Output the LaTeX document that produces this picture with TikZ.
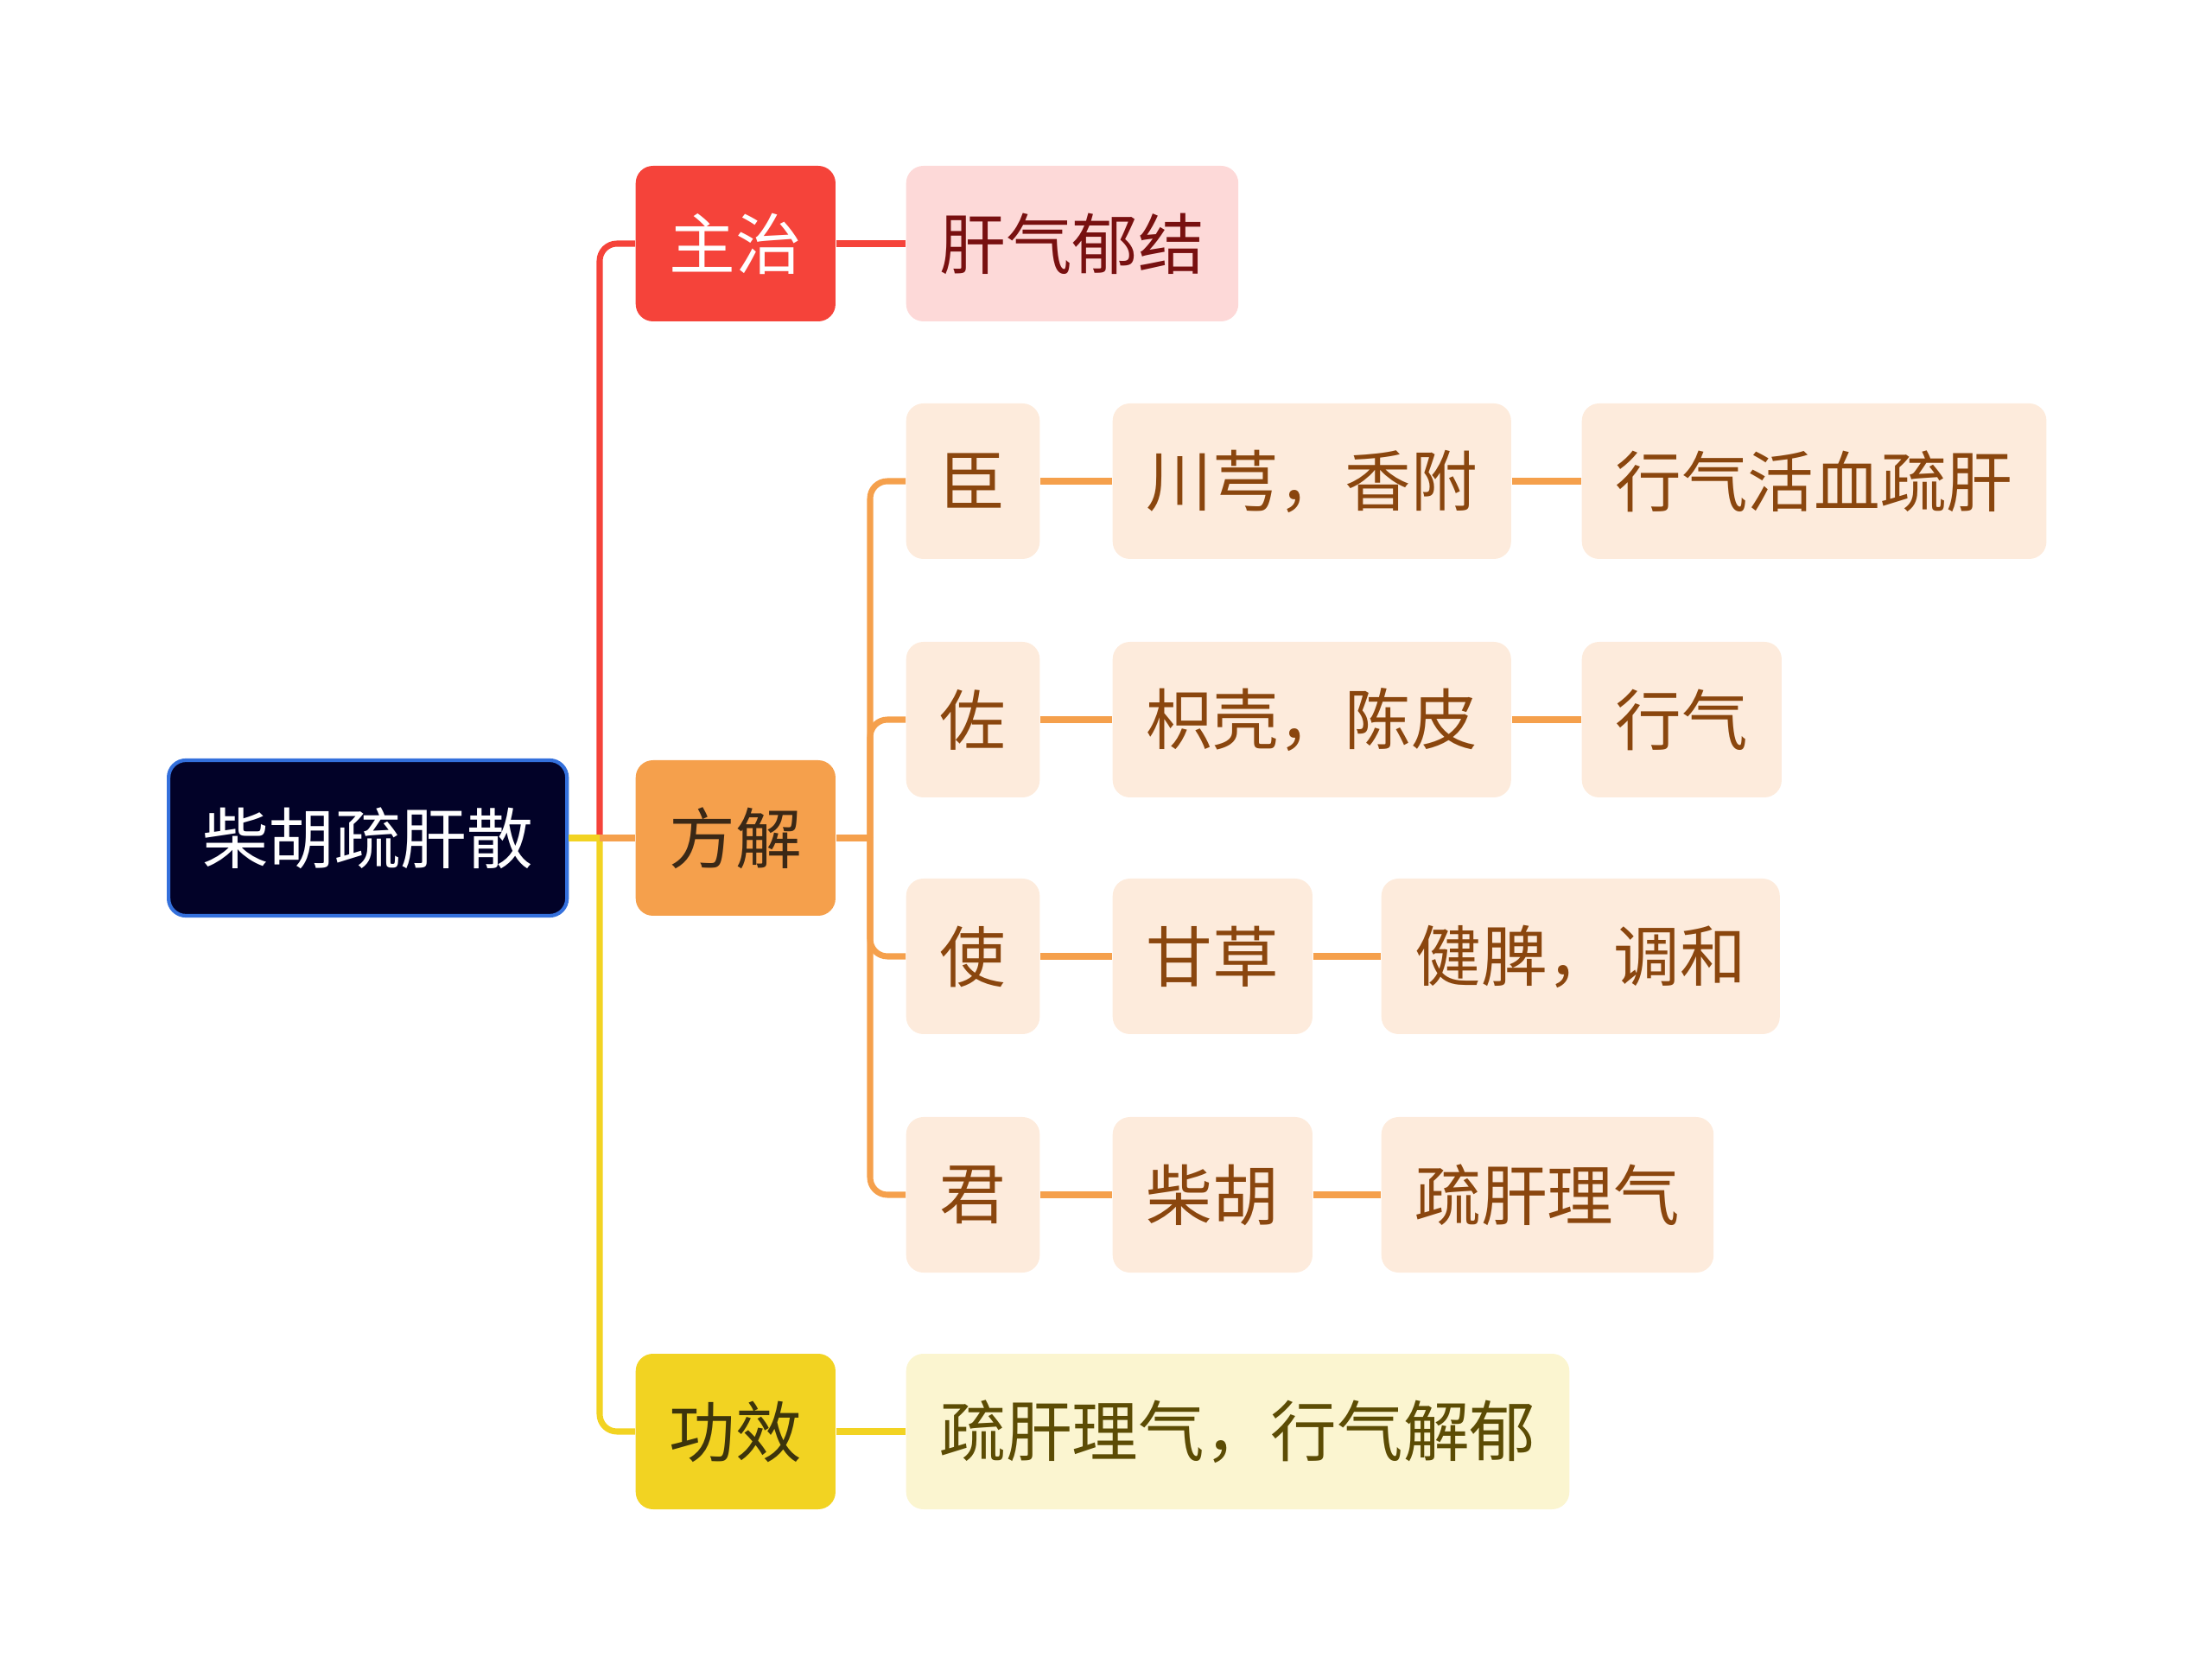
\documentclass[tikz,border=0pt]{standalone}
\usepackage{fontspec}
\setmainfont{Noto Sans CJK SC}
\usepackage{tikz}
\definecolor{rootfill}{RGB}{2, 2, 40}
\definecolor{rootline}{RGB}{52, 112, 220}
\definecolor{zzblock}{RGB}{245, 67, 58}
\definecolor{zzleaf}{RGB}{253, 217, 216}
\definecolor{zztext}{RGB}{120, 16, 16}
\definecolor{fjblock}{RGB}{245, 160, 76}
\definecolor{fjleaf}{RGB}{253, 235, 220}
\definecolor{fjtext}{RGB}{138, 70, 14}
\definecolor{gxblock}{RGB}{242, 211, 34}
\definecolor{gxleaf}{RGB}{251, 245, 208}
\definecolor{gxtext}{RGB}{92, 76, 4}

\begin{document}
\begin{tikzpicture}[
		box/.style={rounded corners=0.2cm, minimum height=1.8cm, inner xsep=0.39cm,
			anchor=west, font=\fontsize{21.8}{24}\selectfont},
		branch/.style={line width=2pt, rounded corners=0.2cm}
	]
		\useasboundingbox (0,0) rectangle (25.6,19.39);

		\node[box, fill=rootfill, draw=rootline, line width=1.2pt, text=white] (root) at (1.93, 9.69) {柴胡疏肝散};

		\node[box, fill=zzblock, text=white] (zhuzhi) at (7.35, 16.57) {主治};
		\node[box, fill=fjblock, text={rgb,255:red,58;green,40;blue,22}] (fangjie) at (7.35, 9.69) {方解};
		\node[box, fill=gxblock, text={rgb,255:red,60;green,52;blue,12}] (gongxiao) at (7.35, 2.82) {功效};

		\node[box, fill=zzleaf, text=zztext] (ganqi) at (10.48, 16.57) {肝气郁结};
		\node[box, fill=gxleaf, text=gxtext] (shugan) at (10.48, 2.82) {疏肝理气，行气解郁};

		\node[box, fill=fjleaf, text=fjtext] (chen) at (10.48, 13.82) {臣};
		\node[box, fill=fjleaf, text=fjtext] (zuo) at (10.48, 11.06) {佐};
		\node[box, fill=fjleaf, text=fjtext] (shi) at (10.48, 8.32) {使};
		\node[box, fill=fjleaf, text=fjtext] (jun) at (10.48, 5.56) {君};

		\node[box, fill=fjleaf, text=fjtext] (chuanxiong) at (12.87, 13.82) {川芎，香附};
		\node[box, fill=fjleaf, text=fjtext] (zhiqiao) at (12.87, 11.06) {枳壳，陈皮};
		\node[box, fill=fjleaf, text=fjtext] (gancao) at (12.87, 8.32) {甘草};
		\node[box, fill=fjleaf, text=fjtext] (chaihu) at (12.87, 5.56) {柴胡};

		\node[box, fill=fjleaf, text=fjtext] (xingxue) at (18.30, 13.82) {行气活血疏肝};
		\node[box, fill=fjleaf, text=fjtext] (xingqi) at (18.30, 11.06) {行气};
		\node[box, fill=fjleaf, text=fjtext] (jianpi) at (15.98, 8.32) {健脾，调和};
		\node[box, fill=fjleaf, text=fjtext] (ligan) at (15.98, 5.56) {疏肝理气};

		\coordinate (trunk) at (6.94, 9.69);
		\coordinate (fork) at (10.07, 9.69);

		\draw[branch, zzblock] (trunk) |- (zhuzhi.west);
		\draw[branch, zzblock] (zhuzhi.east) -- (ganqi.west);
		\draw[branch, gxblock] (trunk) |- (gongxiao.west);
		\draw[branch, gxblock] (root.east) -- (trunk);
		\draw[branch, gxblock] (gongxiao.east) -- (shugan.west);
		\draw[branch, fjblock] (trunk) -- (fangjie.west);

		\draw[branch, fjblock] (fangjie.east) -- (fork);
		\draw[branch, fjblock] (fork) |- (chen.west);
		\draw[branch, fjblock] (fork) |- (zuo.west);
		\draw[branch, fjblock] (fork) |- (shi.west);
		\draw[branch, fjblock] (fork) |- (jun.west);

		\draw[branch, fjblock] (chen.east) -- (chuanxiong.west);
		\draw[branch, fjblock] (zuo.east) -- (zhiqiao.west);
		\draw[branch, fjblock] (shi.east) -- (gancao.west);
		\draw[branch, fjblock] (jun.east) -- (chaihu.west);
		\draw[branch, fjblock] (chuanxiong.east) -- (xingxue.west);
		\draw[branch, fjblock] (zhiqiao.east) -- (xingqi.west);
		\draw[branch, fjblock] (gancao.east) -- (jianpi.west);
		\draw[branch, fjblock] (chaihu.east) -- (ligan.west);
	\end{tikzpicture}
\end{document}
